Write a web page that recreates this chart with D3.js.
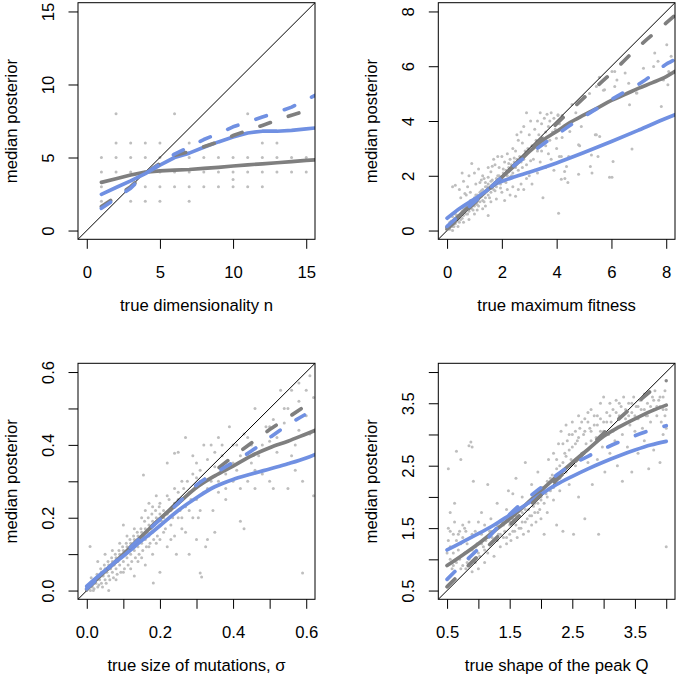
<!DOCTYPE html>
<html><head><meta charset="utf-8">
<script src="https://cdn.jsdelivr.net/npm/d3@7"></script>
<style>
body{margin:0;background:#fff}
svg{display:block}
text{font-family:"Liberation Sans",Arial,Helvetica,sans-serif;font-size:16.7px;fill:#000}
</style></head>
<body><svg id="c" width="678" height="681"></svg>
<script>
// ---------- Panel 1: dimensionality ----------
const p1XTicks=[0,5,10,15], p1YTicks=[0,5,10,15];
const p1XLabels=["0","5","10","15"], p1YLabels=["0","5","10","15"];
const p1Points=[[2,8],[6,8],[11,8],
 [2,6],[3,6],[4,6],[5,6],[7,6],[12,6],[13,6],
 [1,5],[2,5],[3,5],[4,5],[5,5],[6,5],[7,5],[8,5],[9,5],[10,5],[11,5],[12,5],[13,5],[14,5],[15,5],
 [1,4],[2,4],[3,4],[4,4],[5,4],[6,4],[7,4],[8,4],[9,4],[10,4],[11,4],[12,4],[13,4],[14,4],[15,4],
 [10,3.5],
 [1,3],[4,3],[5,3],[6,3],[7,3],[8,3],[9,3],[10,3],[11,3],[12,3],
 [1,2],[3,2],[4,2],[5,2],[7,2]];
const p1GraySolid=[[1,3.3],[2,3.55],[3,3.8],[4,4.0],[5,4.08],[6,4.14],[7,4.18],[8,4.25],[9,4.33],[10,4.42],[11,4.5],[12,4.57],[13,4.64],[14,4.72],[15,4.8],[15.6,4.84]];
const p1GrayDashed=[[1,1.64],[2,2.3],[3,3.0],[4,3.9],[5,4.6],[6,5.16],[7,5.4],[8,5.73],[9,6.07],[10,6.5],[11,6.86],[12,7.2],[13,7.55],[14,7.9],[15,8.2]];
const p1BlueSolid=[[1,2.48],[2,2.95],[3,3.4],[4,3.9],[5,4.48],[6,5.0],[7,5.3],[8,5.7],[9,6.07],[10,6.4],[11,6.68],[12,6.8],[13,6.8],[14,6.86],[15,6.96],[15.6,7.02]];
const p1BlueDashed=[[1,1.52],[2,2.2],[3,2.9],[4,3.9],[5,4.55],[6,5.23],[7,5.73],[8,6.23],[9,6.64],[10,7.1],[11,7.43],[12,7.77],[13,8.1],[14,8.45],[15,8.95],[15.6,9.25]];

// ---------- Panel 2: maximum fitness ----------
const p2XTicks=[0,2,4,6,8], p2YTicks=[0,2,4,6,8];
const p2XLabels=["0","2","4","6","8"], p2YLabels=["0","2","4","6","8"];
const p2Points=[[0.05,0.1],[0.1,0.05],[0.15,0.2],[0.2,0.15],[0.25,0.3],[0.3,0.25],[0.35,0.4],[0.4,0.35],[0.1,0.3],[0.2,0.5],[0.3,0.6],[0.4,0.55],[0.45,0.45],[0.5,0.6],[0.5,0.4],[0.55,0.7],[0.6,0.55],[0.6,0.8],[0.65,0.65],[0.7,0.9],[0.7,0.6],[0.75,0.8],[0.8,0.7],[0.8,1.0],[0.85,0.9],[0.9,0.8],[0.9,1.1],[0.95,1.0],[1.0,0.9],[1.0,1.2],[1.05,1.05],[1.1,1.3],[1.1,0.95],[1.15,1.15],[1.2,1.4],[1.2,1.05],[1.25,1.25],[1.3,1.5],[1.3,1.1],[1.35,1.35],[1.4,1.6],[1.4,1.2],[1.45,1.45],[1.5,1.7],[1.5,1.3],[1.55,1.55],[1.6,1.4],[1.6,1.8],[1.65,1.65],[1.7,1.5],[1.75,1.75],[1.8,1.6],[1.8,1.9],[1.85,1.8],[1.9,2.0],[1.95,1.7],[2.0,1.9],[2.05,2.1],[2.1,1.8],[2.15,2.2],[2.2,2.0],[2.25,2.3],[2.3,1.95],[2.35,2.4],[2.4,2.1],[2.45,2.5],[2.5,2.3],[2.55,2.6],[2.6,2.2],[2.65,2.7],[2.7,2.5],[2.8,2.6],[2.85,2.9],[2.9,2.4],
 [0.2,1.6],[0.3,1.65],[0.45,1.5],[0.55,2.1],[0.6,1.8],[0.65,1.35],[0.75,1.6],[0.8,2.0],[0.85,1.4],[0.9,2.45],[1.0,2.1],[1.05,1.7],[1.15,2.25],[1.25,1.85],[1.3,2.0],[1.4,1.75],[1.5,2.3],[1.6,2.15],[1.7,2.6],[1.75,2.4],[1.85,2.7],[1.9,2.3],[2.0,2.7],[2.1,2.5],[2.2,2.8],[2.3,2.6],[2.4,3.0],[2.5,2.9],[2.55,3.5],[2.6,3.3],[2.7,3.6],[2.75,3.2],[2.8,3.8],[2.9,4.3],[3.0,3.5],[3.05,4.0],[3.1,3.1],[3.2,3.7],[3.25,3.3],[3.3,4.0],[3.35,3.5],[3.4,4.3],[3.45,3.9],[3.5,3.4],[3.55,4.1],[3.6,3.6],[3.65,4.25],[3.7,3.8],[3.75,4.0],[3.8,4.3],[3.9,4.1],[3.95,3.7],[4.05,4.2],[4.1,3.9],[4.2,4.2],
 [0.2,0.0],[0.4,0.15],[0.6,0.3],[0.8,0.4],[1.0,0.6],[1.1,0.75],[1.3,0.8],[1.4,0.9],[1.5,0.55],[1.6,1.05],[1.8,1.15],[2.0,1.4],[2.1,1.1],[2.2,1.5],[2.3,1.3],[2.4,1.6],[2.5,1.25],[2.6,1.5],[2.7,1.7],[2.8,1.5],[2.9,1.9],[3.0,2.0],[3.1,1.7],[3.2,2.2],[3.3,2.1],[3.4,2.5],[3.5,1.2],[3.6,2.3],[3.7,2.8],[3.8,2.6],[3.9,2.2],[4.0,3.0],[4.1,2.7],[4.2,3.4],[4.3,1.9],[3.3,2.9],[3.6,3.1],[2.95,3.0],[3.15,2.6],
 [0.15,0.35],[0.25,0.15],[0.35,0.55],[0.45,0.3],[0.55,0.45],[0.65,0.85],[0.75,0.6],[0.85,1.1],[0.95,0.75],[1.05,1.3],[1.15,0.9],[1.25,1.45],[1.35,1.05],[1.45,1.6],[1.55,1.2],[1.65,1.85],[1.75,1.45],[1.85,2.0],[1.95,1.55],[2.05,2.25],[2.15,1.75],[2.25,2.45],[2.35,2.0],[2.45,2.65],[1.2,1.75],[1.35,1.9],[1.5,1.95],[1.65,2.35],[0.5,1.2],[0.7,1.3],[2.75,2.3],[3.05,2.55],[3.45,2.9],[3.75,3.3],[3.85,3.6],
 [4.07,0.63],[4.05,4.23],[3.99,3.37],[4.48,3.62],[4.84,3.1],[4.17,2.7],[4.36,2.34],[5.45,3.5],[5.57,3.43],[5.27,2.76],[5.51,2.7],[6.06,2.52],[5.29,2.1],[4.8,2.06],[4.29,2.16],[4.17,1.87],[4.41,1.75],[5.93,1.95],[6.75,2.98],[6.66,4.59],[6.91,5.02],[6.12,5.26],[6.12,5.81],[5.75,5.14],[5.45,5.26],[7.58,6.48],[7.7,6.18],[8.18,6.36],[7.82,4.53],[8.06,5.32],[8.02,6.78],[7.54,5.99],[7.17,5.93],[8.09,5.81],[7.9,5.5],[6.63,5.38],[6.02,5.81],[5.56,5.6],[5.71,5.12],[6.93,5.02],[5.41,3.5],[4.8,3.13],[4.44,2.7],[5.23,2.34],[6.02,1.95],[4.56,4.6],[4.7,4.3],[5.0,4.9],[5.2,5.0],[4.9,3.8],[6.2,5.5],[6.5,5.75]];
const p2GraySolid=[[0,0.12],[0.5,0.6],[1,1.05],[1.5,1.5],[2,1.95],[2.5,2.4],[3,2.88],[3.5,3.3],[4,3.62],[4.5,3.95],[5,4.22],[5.5,4.48],[6,4.75],[6.5,4.97],[7,5.2],[7.5,5.4],[8,5.62],[8.32,5.81]];
const p2GrayDashed=[[0,0.05],[1,1.0],[2,1.95],[3,2.9],[4,3.9],[5,4.85],[6,5.75],[7,6.72],[8,7.58],[8.32,7.86]];
const p2BlueSolid=[[0,0.45],[0.5,0.83],[1,1.15],[1.5,1.5],[1.75,1.68],[2,1.8],[2.5,1.97],[3,2.13],[4,2.47],[5,2.85],[6,3.25],[7,3.67],[8,4.1],[8.32,4.23]];
const p2BlueDashed=[[0,0.15],[1,1.05],[2,1.95],[2.5,2.42],[3,2.78],[3.5,3.15],[4,3.5],[4.4,3.78],[5.3,4.35],[6.2,4.9],[7.15,5.44],[8.06,6.11],[8.32,6.25]];

// ---------- Panel 3: size of mutations ----------
const p3XTicks=[0,0.1,0.2,0.3,0.4,0.5,0.6], p3YTicks=[0,0.1,0.2,0.3,0.4,0.5,0.6];
const p3XLabels=["0.0","","0.2","","0.4","","0.6"], p3YLabels=["0.0","","0.2","","0.4","","0.6"];
const p3Points=[[0.0,0.0],[0.005,0.01],[0.01,0.0],[0.01,0.02],[0.015,0.01],[0.02,0.03],[0.02,0.005],[0.025,0.02],[0.03,0.04],[0.03,0.01],[0.035,0.03],[0.04,0.05],[0.04,0.02],[0.045,0.04],[0.05,0.06],[0.05,0.03],[0.055,0.05],[0.06,0.07],[0.06,0.04],[0.065,0.06],[0.07,0.08],[0.07,0.05],[0.075,0.07],[0.08,0.09],[0.08,0.06],[0.085,0.08],[0.09,0.1],[0.09,0.07],[0.095,0.09],[0.1,0.11],[0.1,0.08],[0.105,0.1],[0.11,0.12],[0.11,0.09],[0.115,0.11],[0.12,0.13],[0.12,0.1],[0.125,0.12],[0.13,0.14],[0.13,0.11],[0.135,0.13],[0.14,0.15],[0.14,0.12],[0.145,0.14],[0.15,0.16],[0.15,0.13],[0.155,0.15],[0.16,0.17],[0.16,0.14],[0.165,0.16],[0.17,0.18],[0.17,0.15],[0.175,0.17],[0.18,0.19],[0.18,0.16],[0.185,0.18],[0.19,0.2],[0.19,0.17],[0.195,0.19],[0.2,0.21],[0.2,0.18],
 [0.009,0.121],[0.03,0.08],[0.05,0.1],[0.06,0.0],[0.07,0.11],[0.08,0.03],[0.09,0.13],[0.1,0.05],[0.1,0.18],[0.11,0.15],[0.12,0.06],[0.13,0.17],[0.13,0.04],[0.14,0.08],[0.15,0.2],[0.15,0.09],[0.16,0.22],[0.16,0.07],[0.17,0.12],[0.17,0.24],[0.18,0.1],[0.18,0.23],[0.19,0.13],[0.19,0.26],[0.2,0.05],[0.2,0.14],[0.2,0.24],[0.21,0.2],[0.21,0.16],[0.22,0.26],[0.22,0.12],[0.23,0.22],[0.23,0.18],[0.24,0.28],[0.24,0.15],[0.25,0.25],[0.25,0.2],[0.26,0.3],[0.26,0.17],[0.27,0.42],[0.27,0.23],[0.28,0.1],[0.28,0.27],[0.29,0.32],[0.29,0.2],[0.3,0.14],[0.3,0.25],[0.3,0.35],[0.31,0.3],[0.31,0.22],[0.31,0.048],[0.314,0.037],[0.32,0.4],[0.33,0.14],[0.33,0.28],[0.34,0.4],[0.35,0.16],[0.35,0.34],[0.36,0.42],[0.36,0.3],[0.37,0.37],[0.38,0.25],[0.38,0.32],[0.39,0.45],[0.4,0.3],[0.4,0.35],[0.41,0.4],[0.42,0.19],[0.42,0.28],[0.43,0.17],[0.43,0.43],[0.44,0.3],[0.45,0.35],[0.45,0.4],[0.46,0.5],[0.46,0.28],[0.47,0.37],[0.48,0.32],[0.49,0.45],[0.5,0.41],[0.5,0.3],[0.51,0.47],[0.51,0.28],[0.52,0.38],[0.53,0.55],[0.54,0.46],[0.55,0.28],[0.55,0.5],[0.56,0.55],[0.57,0.4],[0.57,0.33],[0.58,0.57],[0.58,0.44],[0.59,0.048],[0.59,0.3],[0.6,0.48],[0.61,0.59],[0.61,0.43],[0.62,0.26],[0.62,0.53],[0.155,0.317],[0.24,0.377],[0.25,0.38],[0.182,0.021],[0.22,0.35],
 [0.012,0.035],[0.018,0.0],[0.028,0.045],[0.033,0.015],[0.038,0.06],[0.043,0.01],[0.048,0.07],[0.053,0.02],[0.058,0.08],[0.063,0.03],[0.068,0.09],[0.073,0.035],[0.078,0.1],[0.083,0.045],[0.088,0.11],[0.093,0.05],[0.098,0.12],[0.103,0.06],[0.108,0.13],[0.113,0.07],[0.118,0.14],[0.123,0.08],[0.128,0.15],[0.133,0.09],[0.138,0.16],[0.143,0.1],[0.148,0.17],[0.153,0.11],[0.158,0.19],[0.163,0.12],[0.168,0.2],[0.173,0.13],[0.178,0.21],[0.183,0.14],[0.188,0.22],[0.193,0.15],[0.198,0.23],[0.205,0.19],[0.21,0.22],[0.215,0.17],[0.22,0.21],[0.225,0.25],[0.23,0.14],[0.235,0.2],[0.24,0.24],[0.245,0.1],[0.25,0.27],[0.255,0.22],[0.26,0.2],[0.265,0.28],[0.27,0.16],[0.275,0.3],[0.28,0.22],[0.285,0.25],[0.29,0.37],[0.295,0.28],[0.3,0.31],[0.305,0.2],[0.31,0.33],[0.32,0.27],[0.325,0.12],[0.33,0.36],[0.34,0.3],[0.345,0.22],[0.35,0.38],[0.36,0.27],[0.37,0.4],[0.38,0.28],[0.4,0.4],[0.41,0.33],[0.42,0.37],[0.44,0.42],[0.46,0.33],[0.48,0.4],[0.5,0.45],[0.52,0.42],[0.54,0.5],[0.56,0.37],[0.6,0.55],[0.58,0.52]];
const p3GraySolid=[[0,0.005],[0.1,0.1],[0.2,0.197],[0.25,0.24],[0.3,0.283],[0.35,0.315],[0.4,0.342],[0.45,0.37],[0.5,0.392],[0.55,0.41],[0.6,0.43],[0.625,0.44]];
const p3GrayDashed=[[0,0.003],[0.1,0.1],[0.2,0.197],[0.25,0.24],[0.3,0.286],[0.35,0.328],[0.4,0.368],[0.45,0.405],[0.5,0.442],[0.55,0.475],[0.59,0.502]];
const p3BlueSolid=[[0,0.012],[0.05,0.055],[0.1,0.095],[0.15,0.137],[0.2,0.178],[0.25,0.22],[0.3,0.255],[0.35,0.285],[0.4,0.305],[0.45,0.32],[0.5,0.334],[0.55,0.348],[0.6,0.364],[0.625,0.374]];
const p3BlueDashed=[[0,0.005],[0.1,0.1],[0.2,0.195],[0.25,0.24],[0.3,0.29],[0.35,0.322],[0.4,0.352],[0.45,0.383],[0.5,0.42],[0.55,0.455],[0.595,0.482]];

// ---------- Panel 4: shape of the peak ----------
const p4XTicks=[0.5,1,1.5,2,2.5,3,3.5,4], p4YTicks=[0.5,1,1.5,2,2.5,3,3.5,4];
const p4XLabels=["0.5","","1.5","","2.5","","3.5",""], p4YLabels=["0.5","","1.5","","2.5","","3.5",""];
const p4Points=[[0.5,0.9],[0.5,1.1],[0.52,1.3],[0.52,1.5],[0.52,2.45],[0.55,1.0],[0.55,1.2],[0.55,1.75],[0.58,0.85],[0.6,1.1],[0.6,1.4],[0.62,1.6],[0.62,1.9],[0.65,0.95],[0.65,1.3],[0.65,2.73],[0.68,1.15],[0.7,1.45],[0.7,1.0],[0.72,1.25],[0.72,2.6],[0.75,0.9],[0.75,1.55],[0.75,1.35],[0.78,1.1],[0.8,1.45],[0.8,0.85],[0.82,1.25],[0.85,2.82],[0.85,1.0],[0.85,1.6],[0.88,2.88],[0.88,1.35],[0.9,2.8],[0.9,0.8],[0.9,1.15],[0.92,2.25],[0.95,1.45],[0.95,0.95],[0.98,1.25],[1.0,1.6],[1.0,0.85],[1.02,1.05],[1.05,1.4],[1.05,1.75],[1.08,1.2],[1.1,0.95],[1.1,1.55],[1.12,1.3],[1.15,1.1],[1.15,2.2],[1.18,1.45],[1.2,1.25],[1.2,1.65],[1.22,1.35],[1.25,1.05],[1.28,1.5],[1.3,1.3],[1.3,1.9],[1.32,1.4],[1.35,1.2],[1.38,1.6],[1.4,1.35],[1.42,1.45],[1.45,1.25],[1.45,1.8],[1.48,2.1],[1.5,1.4],[1.5,1.55],[1.52,1.3],[1.55,1.65],[1.55,2.05],[1.58,1.45],[1.6,1.55],[1.6,2.3],[1.62,1.35],[1.65,1.7],[1.68,1.5],[1.7,2.0],[1.7,1.6],[1.72,1.4],[1.75,1.8],[1.75,2.55],[1.78,1.65],[1.8,1.45],[1.8,1.9],[1.82,1.7],[1.85,1.55],[1.85,2.2],[1.88,1.85],[1.9,1.75],[1.9,2.05],[1.92,1.6],[1.95,1.9],[1.95,2.4],[1.98,1.8],[2.0,2.0],[2.0,1.65],[2.02,2.15],[2.05,1.9],[2.05,1.4],[2.08,2.05],[2.1,2.25],[2.1,1.75],[2.12,2.6],[2.15,2.1],[2.18,2.35],[2.2,1.95],[2.2,2.7],[2.22,2.2],[2.25,2.45],[2.25,1.55],[2.28,2.85],[2.3,2.3],[2.3,2.1],[2.32,3.05],[2.35,2.55],[2.35,1.45],[2.38,2.7],[2.4,3.15],[2.4,2.4],[2.42,2.9],[2.45,2.2],[2.45,3.0],[2.48,2.6],[2.5,3.2],[2.5,2.8],[2.52,1.4],[2.55,3.05],[2.55,2.5],[2.58,2.9],[2.6,3.3],[2.6,2.0],[2.62,3.1],[2.65,2.7],[2.68,3.0],[2.7,3.25],[2.7,1.65],[2.72,2.85],[2.75,3.35],[2.75,2.55],[2.78,3.1],[2.8,2.9],[2.8,3.4],[2.82,2.2],[2.85,3.15],[2.88,2.95],[2.9,3.3],[2.9,2.6],[2.92,1.4],[2.95,3.05],[2.95,3.5],[2.98,2.8],[3.0,3.2],[3.0,3.6],[3.02,2.4],[3.05,3.35],[3.08,3.0],[3.1,3.5],[3.1,2.7],[3.12,3.2],[3.15,3.4],[3.18,2.9],[3.2,3.55],[3.2,3.1],[3.22,2.5],[3.25,3.3],[3.28,3.45],[3.3,3.0],[3.3,2.25],[3.32,3.6],[3.35,3.25],[3.38,2.8],[3.4,3.5],[3.42,3.15],[3.45,3.35],[3.45,2.4],[3.48,3.6],[3.5,3.05],[3.52,3.45],[3.55,3.25],[3.55,2.7],[3.58,3.55],[3.6,3.4],[3.62,3.1],[3.65,3.65],[3.65,2.9],[3.68,3.3],[3.7,3.5],[3.72,2.45],[3.75,3.2],[3.78,3.6],[3.8,3.4],[3.8,2.75],[3.82,3.7],[3.85,3.3],[3.88,3.55],[3.9,2.55],[3.9,3.45],[3.92,3.2],[3.95,3.6],[3.95,3.0],[3.98,3.7],[4.0,3.4],[4.0,1.2],[4.0,3.1],
 [0.55,1.45],[0.6,0.9],[0.68,1.4],[0.72,0.85],[0.78,1.5],[0.82,0.95],[0.9,1.4],[0.95,1.2],[1.0,1.1],[1.05,1.25],[1.1,1.15],[1.15,1.35],[1.2,1.45],[1.25,1.3],[1.3,1.55],[1.35,1.4],[1.4,1.55],[1.45,1.35],[1.5,1.6],[1.55,1.45],[1.6,1.7],[1.65,1.5],[1.7,1.75],[1.75,1.6],[1.8,1.8],[1.85,1.7],[1.9,1.9],[1.95,1.75],[2.0,1.95],[2.05,2.1],[2.1,2.0],[2.15,2.3],[2.2,2.15],[2.25,2.6],[2.3,2.5],[2.35,2.85],[2.4,2.65],[2.45,2.75],[2.5,3.0],[2.55,2.85],[2.6,2.95],[2.65,3.2],[2.7,3.05],[2.75,3.2],[2.8,3.05],[2.85,3.3],[2.9,3.15],[2.95,3.25],[3.0,3.05],[3.05,3.2],[3.1,3.3],[3.15,3.05],[3.2,3.35],[3.25,3.5],[3.3,3.3],[3.35,3.4],[3.4,3.3],[3.45,3.5],[3.5,3.3],[3.55,3.45],[3.6,3.55],[3.65,3.4],[3.7,3.3],[3.75,3.45],[3.8,3.55],[3.85,3.45],[3.9,3.6],[3.95,3.4],[3.98,3.3]];
const p4DarkPoints=[[4.0,3.86]];
const p4GraySolid=[[0.5,0.9],[0.75,1.07],[1,1.25],[1.25,1.45],[1.5,1.65],[1.75,1.87],[2,2.1],[2.25,2.33],[2.5,2.55],[2.75,2.76],[3,2.97],[3.25,3.12],[3.5,3.25],[3.75,3.37],[4,3.47]];
const p4GrayDashed=[[0.5,0.56],[1,1.06],[1.5,1.55],[2,2.03],[2.5,2.52],[3,3.02],[3.5,3.48],[3.78,3.72]];
const p4BlueSolid=[[0.5,1.15],[0.75,1.28],[1,1.41],[1.25,1.55],[1.5,1.71],[1.75,1.87],[2,2.04],[2.25,2.2],[2.5,2.33],[2.75,2.45],[3,2.56],[3.25,2.66],[3.5,2.75],[3.75,2.83],[4,2.89]];
const p4BlueDashed=[[0.5,0.68],[0.75,0.93],[1,1.17],[1.25,1.45],[1.5,1.72],[1.75,1.95],[2,2.15],[2.25,2.35],[2.5,2.52],[2.75,2.65],[3,2.77],[3.25,2.88],[3.5,2.98],[3.75,3.07],[4,3.14]];

const yTitle="median posterior";
const xTitles=["true dimensionality n","true maximum fitness","true size of mutations, σ","true shape of the peak Q"];

// ---------- drawing ----------
const svg=d3.select("#c");
const GRAY="#7f7f7f", BLUE="#7090e2", PT="#bebebe";
const LW=3.7;
const L=[78,315], R=[438.3,675], T=[2.7,239.3], B=[363.3,599.3];

const panels=[
 {id:1,bx:L,by:T,xdom:[-0.6,15.6],ydom:[-0.6,15.6],xt:p1XTicks,xl:p1XLabels,yt:p1YTicks,yl:p1YLabels,pts:p1Points,gs:p1GraySolid,gd:p1GrayDashed,bs:p1BlueSolid,bd:p1BlueDashed,title:xTitles[0],curve:d3.curveLinear},
 {id:2,bx:R,by:T,xdom:[-0.32,8.32],ydom:[-0.32,8.32],xt:p2XTicks,xl:p2XLabels,yt:p2YTicks,yl:p2YLabels,pts:p2Points,gs:p2GraySolid,gd:p2GrayDashed,bs:p2BlueSolid,bd:p2BlueDashed,title:xTitles[1],curve:d3.curveMonotoneX},
 {id:3,bx:L,by:B,xdom:[-0.024,0.624],ydom:[-0.024,0.624],xt:p3XTicks,xl:p3XLabels,yt:p3YTicks,yl:p3YLabels,pts:p3Points,gs:p3GraySolid,gd:p3GrayDashed,bs:p3BlueSolid,bd:p3BlueDashed,title:xTitles[2],curve:d3.curveMonotoneX},
 {id:4,bx:R,by:B,xdom:[0.36,4.14],ydom:[0.36,4.14],xt:p4XTicks,xl:p4XLabels,yt:p4YTicks,yl:p4YLabels,pts:p4Points,dark:p4DarkPoints,gs:p4GraySolid,gd:p4GrayDashed,bs:p4BlueSolid,bd:p4BlueDashed,title:xTitles[3],curve:d3.curveMonotoneX}
];

const defs=svg.append("defs");
panels.forEach(p=>{
  const [x0,x1]=p.bx,[y0,y1]=p.by;
  const x=d3.scaleLinear().domain(p.xdom).range([x0,x1]);
  const y=d3.scaleLinear().domain(p.ydom).range([y1,y0]);
  defs.append("clipPath").attr("id","clip"+p.id).append("rect")
    .attr("x",x0).attr("y",y0).attr("width",x1-x0).attr("height",y1-y0);
  const g=svg.append("g");
  g.append("g").selectAll("circle").data(p.pts).join("circle")
    .attr("cx",d=>x(d[0])).attr("cy",d=>y(d[1])).attr("r",1.5).attr("fill",PT);
  if(p.dark) g.append("g").selectAll("circle").data(p.dark).join("circle")
    .attr("cx",d=>x(d[0])).attr("cy",d=>y(d[1])).attr("r",1.7).attr("fill","#888");
  const cg=g.append("g").attr("clip-path",`url(#clip${p.id})`);
  const lo=p.xdom[0], hi=p.xdom[1];
  cg.append("line").attr("x1",x(lo)).attr("y1",y(lo)).attr("x2",x(hi)).attr("y2",y(hi))
    .attr("stroke","#000").attr("stroke-width",1);
  const line=d3.line().x(d=>x(d[0])).y(d=>y(d[1])).curve(p.curve);
  const draw=(data,col,dash)=>cg.append("path").attr("d",line(data)).attr("fill","none")
    .attr("stroke",col).attr("stroke-width",LW).attr("stroke-linecap","round")
    .attr("stroke-linejoin","round").attr("stroke-dasharray",dash?"11,19":null);
  draw(p.gs,GRAY,false);
  draw(p.bs,BLUE,false);
  draw(p.gd,GRAY,true);
  draw(p.bd,BLUE,true);
  g.append("rect").attr("x",x0).attr("y",y0).attr("width",x1-x0).attr("height",y1-y0)
    .attr("fill","none").attr("stroke","#000").attr("stroke-width",1);
  const xa=g.append("g").attr("transform",`translate(0,${y1})`)
    .call(d3.axisBottom(x).tickValues(p.xt).tickSize(9.5).tickPadding(17)
      .tickFormat((d,i)=>p.xl[i]));
  xa.select(".domain").remove();
  xa.attr("font-size",null).attr("font-family",null);
  const ya=g.append("g").attr("transform",`translate(${x0},0)`)
    .call(d3.axisLeft(y).tickValues(p.yt).tickSize(9.5).tickFormat((d,i)=>p.yl[i]));
  ya.select(".domain").remove();
  ya.attr("font-size",null).attr("font-family",null);
  ya.selectAll("text").attr("x",null).attr("dy",null).attr("text-anchor","middle")
    .attr("transform","translate(-24,0) rotate(-90)");
  g.selectAll(".tick line").attr("stroke","#000");
  g.append("text").attr("x",(x0+x1)/2).attr("y",y1+72).attr("text-anchor","middle").text(p.title);
  g.append("text").attr("transform",`translate(${x0-61},${(y0+y1)/2}) rotate(-90)`)
    .attr("text-anchor","middle").text(yTitle);
});
</script></body></html>
